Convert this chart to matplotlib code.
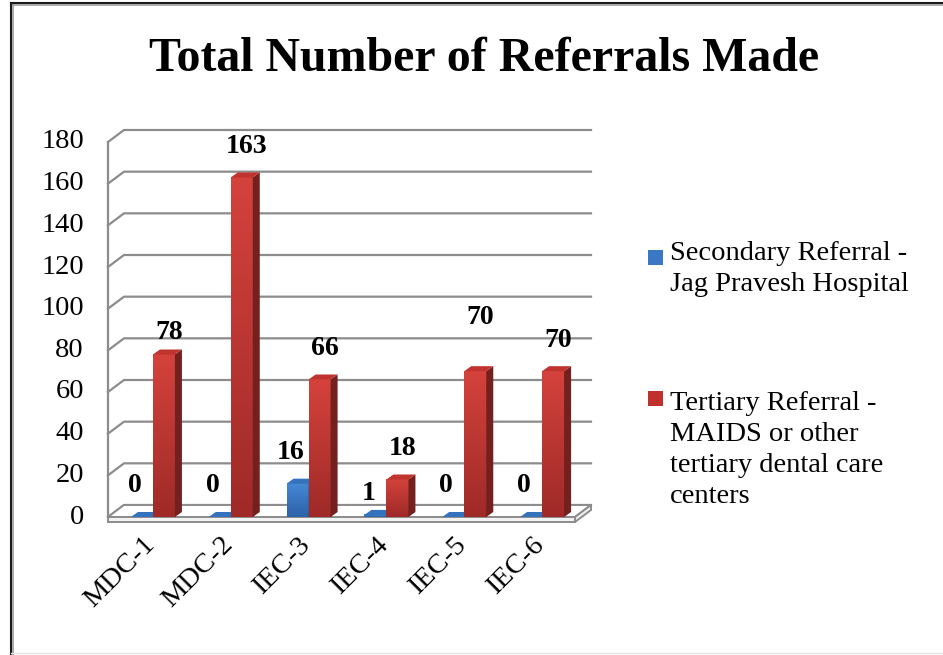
import numpy as np
import matplotlib.pyplot as plt
from matplotlib.patches import Polygon, Rectangle
from matplotlib.colors import LinearSegmentedColormap
from matplotlib.lines import Line2D

# data
categories = ['MDC-1', 'MDC-2', 'IEC-3', 'IEC-4', 'IEC-5', 'IEC-6']
secondary = [0, 0, 16, 1, 0, 0]
tertiary = [78, 163, 66, 18, 70, 70]
series_names = ['Secondary Referral -\nJag Pravesh Hospital',
                'Tertiary Referral -\nMAIDS or other\ntertiary dental care\ncenters']
yticks = np.arange(0, 181, 20)
title = 'Total Number of Referrals Made'

# the value labels were nudged by hand in the original (pixels, up = +)
sec_label_lift = [0, 0, 0, -10, 0, 0]
ter_label_lift = [-9, 0, 0, 0, 23, 0]

plt.rcParams['font.family'] = ['Liberation Serif', 'DejaVu Serif']

W, H = 943, 655
fig = plt.figure(figsize=(W / 100, H / 100), dpi=100)
ax = fig.add_axes([108 / W, 1 - 517 / H, 467 / W, 375 / H])
n = len(categories)
ax.set_xlim(0, n)
ax.set_ylim(0, 180)
ax.axis('off')

# pixel -> data units
px = n / 467
py = 180 / 375
wall_dx, wall_dy = 16 * px, 12 * py
bar_dx, bar_dy = 7 * px, 5 * py
grid_c = '#8c8c8c'

# walls and gridlines
for v in yticks:
    ax.plot([0, wall_dx, n + wall_dx], [v, v + wall_dy, v + wall_dy],
            color=grid_c, lw=1.6, clip_on=False, zorder=1)
ax.plot([0, 0], [0, 180], color=grid_c, lw=1.6, clip_on=False, zorder=1)

# floor slab
t = 5 * py
ax.add_patch(Polygon([(0, 0), (n, 0), (n + wall_dx, wall_dy), (wall_dx, wall_dy)],
                     closed=True, fc='white', ec=grid_c, lw=1.4, clip_on=False, zorder=1.5))
ax.add_patch(Polygon([(0, -t), (n, -t), (n, 0), (0, 0)],
                     closed=True, fc='#f2f2f2', ec=grid_c, lw=1.4, clip_on=False, zorder=1.5))
ax.add_patch(Polygon([(n, -t), (n + wall_dx, wall_dy - t), (n + wall_dx, wall_dy), (n, 0)],
                     closed=True, fc='#f2f2f2', ec=grid_c, lw=1.4, clip_on=False, zorder=1.5))

styles = [
    dict(front=('#2c62a8', '#4688d6'), side='#24508a', top='#3572bd', legend='#3a78c6'),
    dict(front=('#9f2a28', '#d4423c'), side='#74201e', top='#c0332f', legend='#c0302d'),
]

bw = 22 / 77.8
offsets = [-5 / 77.8, 17 / 77.8]
grad = np.linspace(0, 1, 64).reshape(-1, 1)


def draw_bar(cx, h, st, z):
    x0, x1 = cx - bw / 2, cx + bw / 2
    if h > 0:
        cmap = LinearSegmentedColormap.from_list('g', st['front'])
        ax.imshow(grad, cmap=cmap, extent=[x0, x1, 0, h], origin='lower',
                  aspect='auto', zorder=z, interpolation='bilinear')
        ax.add_patch(Polygon([(x1, 0), (x1, h), (x1 + bar_dx, h + bar_dy), (x1 + bar_dx, bar_dy)],
                             closed=True, fc=st['side'], ec='none', zorder=z))
    ax.add_patch(Polygon([(x0, h), (x1, h), (x1 + bar_dx, h + bar_dy), (x0 + bar_dx, h + bar_dy)],
                         closed=True, fc=st['top'], ec='none', zorder=z))


for i in range(n):
    cc = i + 0.5
    for s, (vals, lifts) in enumerate([(secondary, sec_label_lift), (tertiary, ter_label_lift)]):
        cx = cc + offsets[s]
        draw_bar(cx, vals[i], styles[s], 3 + s)
        ax.annotate(str(vals[i]), xy=(cx, vals[i]), xytext=(-7 if s == 0 else 5, 31 + lifts[i]),
                    textcoords='offset pixels', ha='center', va='center',
                    fontsize=20, fontweight='bold', zorder=6, annotation_clip=False)

ax.set_xlim(0, n)
ax.set_ylim(0, 180)

# y tick labels
for v in yticks:
    ax.annotate(str(v), xy=(0, v), xytext=(-24, 0), textcoords='offset pixels',
                ha='right', va='center', fontsize=20.5, annotation_clip=False)

# x tick labels
for i, name in enumerate(categories):
    ax.annotate(name, xy=(i + 0.5, 0), xytext=(4, -24), textcoords='offset pixels',
                ha='right', va='center', rotation=45, rotation_mode='anchor',
                fontsize=20.5, annotation_clip=False)

fig.text(484 / W, 1 - 59 / H, title, ha='center', va='center',
         fontsize=34.5, fontweight='bold')

# legend
leg_square = [250, 391]
leg_text = [247, 397]
for s, name in enumerate(series_names):
    fig.add_artist(Rectangle((648 / W, 1 - (leg_square[s] + 15) / H), 15 / W, 15 / H,
                             transform=fig.transFigure, fc=styles[s]['legend'], ec='none'))
    fig.text(670 / W, 1 - (leg_text[s] - 6) / H, name, ha='left', va='top',
             fontsize=20.5, linespacing=1.32)

# outer frame
fig.add_artist(Line2D([10.5 / W, 10.5 / W], [0, 1 - 3 / H], transform=fig.transFigure, color='#1a1a1a', lw=1.5))
fig.add_artist(Line2D([10.5 / W, 1], [1 - 3 / H, 1 - 3 / H], transform=fig.transFigure, color='#1a1a1a', lw=1.5))
fig.add_artist(Line2D([12.5 / W, 12.5 / W], [0, 1 - 5 / H], transform=fig.transFigure, color='#9a9a9a', lw=1.2))
fig.add_artist(Line2D([12.5 / W, 1], [1 - 5 / H, 1 - 5 / H], transform=fig.transFigure, color='#9a9a9a', lw=1.2))
fig.add_artist(Line2D([10.5 / W, 1], [2 / H, 2 / H], transform=fig.transFigure, color='#e6e6e6', lw=1.0))

fig.savefig('out.png', dpi=100)
